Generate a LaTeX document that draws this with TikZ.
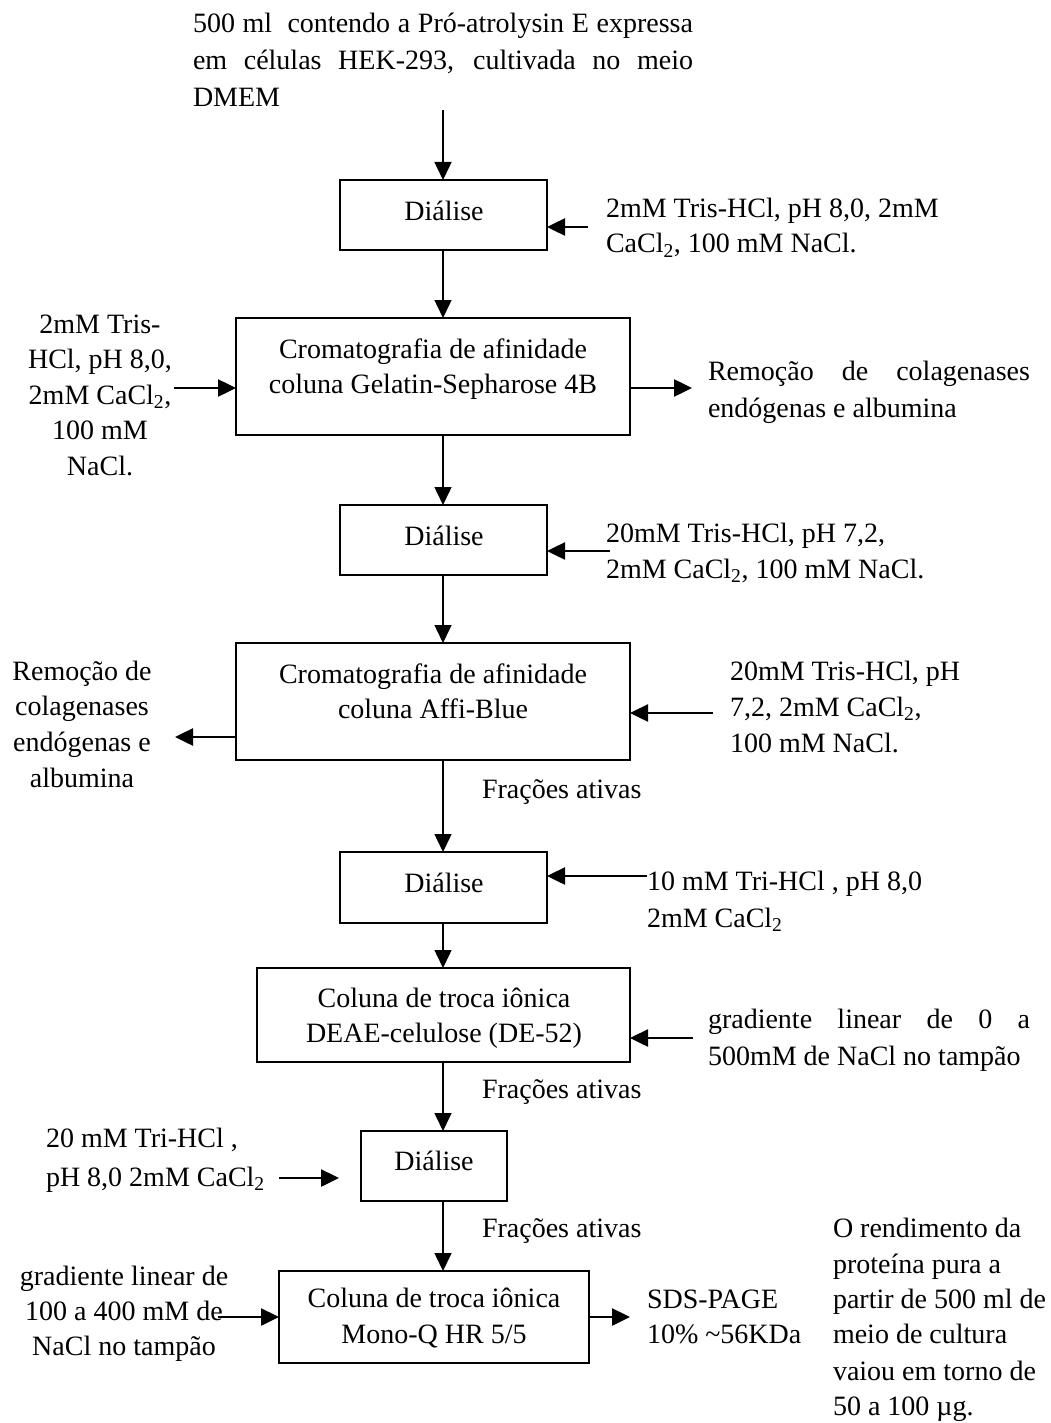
\documentclass[tikz,border=0pt]{standalone}
\usepackage{fontspec}
\setmainfont{Liberation Serif}
\usetikzlibrary{arrows.meta}
\begin{document}
\begin{tikzpicture}[x=1pt,y=-1pt,
  every node/.style={inner sep=0pt, outer sep=0pt},
  txt/.style={font=\fontsize{28}{35}\selectfont, anchor=base west},
  ctxt/.style={font=\fontsize{28}{35}\selectfont, anchor=base},
  box/.style={draw, line width=2pt, rectangle},
  varr/.style={line width=1.5pt, -{Triangle[length=18pt,width=17pt]}},
  harr/.style={line width=2.5pt, -{Triangle[length=18pt,width=17pt]}}]
\useasboundingbox (0,0) rectangle (1051,1423);

% ---- boxes ----
\node[box, minimum width=207pt, minimum height=70pt]  (b1) at (443.5,215)  {};
\node[box, minimum width=394pt, minimum height=117pt] (b2) at (433,376.5)  {};
\node[box, minimum width=207pt, minimum height=70pt]  (b3) at (443.5,540)  {};
\node[box, minimum width=394pt, minimum height=117pt] (b4) at (433,701.5)  {};
\node[box, minimum width=207pt, minimum height=71pt]  (b5) at (443.5,887.5) {};
\node[box, minimum width=373pt, minimum height=94pt]  (b6) at (443.5,1015) {};
\node[box, minimum width=146pt, minimum height=70pt]  (b7) at (434,1166)   {};
\node[box, minimum width=310pt, minimum height=92pt]  (b8) at (434,1317)   {};

% ---- box texts ----
\node[ctxt] (b1t)  at (444,221)  {Diálise};
\node[ctxt] (b2t1) at (433,358)  {Cromatografia de afinidade};
\node[ctxt] (b2t2) at (433,393)  {coluna Gelatin-Sepharose 4B};
\node[ctxt] (b3t)  at (444,545)  {Diálise};
\node[ctxt] (b4t1) at (433,683)  {Cromatografia de afinidade};
\node[ctxt] (b4t2) at (433,718)  {coluna Affi-Blue};
\node[ctxt] (b5t)  at (444,892)  {Diálise};
\node[ctxt] (b6t1) at (444,1007) {Coluna de troca iônica};
\node[ctxt] (b6t2) at (444,1042) {DEAE-celulose (DE-52)};
\node[ctxt] (b7t)  at (434,1170) {Diálise};
\node[ctxt] (b8t1) at (434,1307) {Coluna de troca iônica};
\node[ctxt] (b8t2) at (434,1343) {Mono-Q HR 5/5};

% ---- top text ----
\node[txt] (s1) at (193,33)  {\makebox[500pt][s]{500 ml \ contendo a Pró-atrolysin E expressa}};
\node[txt] (s2) at (193,70)  {\makebox[500pt][s]{em células HEK-293, cultivada no meio}};
\node[txt] (s3) at (193,107) {DMEM};

% ---- side texts ----
\node[txt] (r1a) at (606,218) {2mM Tris-HCl, pH 8,0, 2mM};
\node[txt] (r1b) at (606,253) {CaCl\textsubscript{2}, 100 mM NaCl.};

\node[ctxt] (l2a) at (100,333)   {2mM Tris-};
\node[ctxt] (l2b) at (100,368.5) {HCl, pH 8,0,};
\node[ctxt] (l2c) at (100,404)   {2mM CaCl\textsubscript{2},};
\node[ctxt] (l2d) at (100,439.5) {100 mM};
\node[ctxt] (l2e) at (100,475)   {NaCl.};

\node[txt] (r2a) at (708,380) {\makebox[322pt][s]{Remoção de colagenases}};
\node[txt] (r2b) at (708,417) {endógenas e albumina};

\node[txt] (r3a) at (606,542) {20mM Tris-HCl, pH 7,2,};
\node[txt] (r3b) at (606,578) {2mM CaCl\textsubscript{2}, 100 mM NaCl.};

\node[ctxt] (l4a) at (82,680)   {Remoção de};
\node[ctxt] (l4b) at (82,715.7) {colagenases};
\node[ctxt] (l4c) at (82,751.3) {endógenas e};
\node[ctxt] (l4d) at (82,787)   {albumina};

\node[txt] (r4a) at (730,680) {20mM Tris-HCl, pH};
\node[txt] (r4b) at (730,716) {7,2, 2mM CaCl\textsubscript{2},};
\node[txt] (r4c) at (730,752) {100 mM NaCl.};

\node[txt] (f1) at (482,798)  {Frações ativas};
\node[txt] (f2) at (482,1098) {Frações ativas};
\node[txt] (f3) at (482,1237) {Frações ativas};

\node[txt] (r5a) at (647,890) {10 mM Tri-HCl , pH 8,0};
\node[txt] (r5b) at (647,927) {2mM CaCl\textsubscript{2}};

\node[txt] (r6a) at (708,1028) {\makebox[322pt][s]{gradiente linear de 0 a}};
\node[txt] (r6b) at (708,1065) {500mM de NaCl no tampão};

\node[txt] (l7a) at (46,1147) {20 mM Tri-HCl ,};
\node[txt] (l7b) at (46,1186) {pH 8,0 2mM CaCl\textsubscript{2}};

\node[ctxt] (l8a) at (124,1285) {gradiente linear de};
\node[ctxt] (l8b) at (124,1320) {100 a 400 mM de};
\node[ctxt] (l8c) at (124,1355) {NaCl no tampão};

\node[txt] (r8a) at (647,1308) {SDS-PAGE};
\node[txt] (r8b) at (647,1343) {10\% \textasciitilde56KDa};

\node[txt] (y1) at (833,1237) {O rendimento da};
\node[txt] (y2) at (833,1273) {proteína pura a};
\node[txt] (y3) at (833,1308) {partir de 500 ml de};
\node[txt] (y4) at (833,1343) {meio de cultura};
\node[txt] (y5) at (833,1380) {vaiou em torno de};
\node[txt] (y6) at (833,1415) {50 a 100 µg.};

% ---- vertical connectors ----
\coordinate (ax) at (443,0);
\coordinate (top) at (443,110);
\draw[varr] (top) -- (b1.north -| ax);
\draw[varr] (b1.south -| ax) -- (b2.north -| ax);
\draw[varr] (b2.south -| ax) -- (b3.north -| ax);
\draw[varr] (b3.south -| ax) -- (b4.north -| ax);
\draw[varr] (b4.south -| ax) -- (b5.north -| ax);
\draw[varr] (b5.south -| ax) -- (b6.north -| ax);
\draw[varr] (b6.south -| ax) -- (b7.north -| ax);
\draw[varr] (b7.south -| ax) -- (b8.north -| ax);

% ---- horizontal connectors ----
\coordinate (h1) at (588,227);
\draw[harr] (h1) -- (h1 -| b1.east);
\coordinate (h2) at (174,388);
\draw[harr] (h2) -- (h2 -| b2.west);
\coordinate (h3) at (692,388);
\draw[harr] (h3 -| b2.east) -- (h3);
\coordinate (h4) at (610,551);
\draw[harr] (h4) -- (h4 -| b3.east);
\coordinate (h5) at (175,737);
\draw[harr] (h5 -| b4.west) -- (h5);
\coordinate (h6) at (713,713);
\draw[harr] (h6) -- (h6 -| b4.east);
\coordinate (h7) at (647,876);
\draw[harr] (h7) -- (h7 -| b5.east);
\coordinate (h8) at (693,1038);
\draw[harr] (h8) -- (h8 -| b6.east);
\coordinate (h9a) at (279,1178);
\coordinate (h9b) at (339,1178);
\draw[harr] (h9a) -- (h9b);
\coordinate (h10) at (218,1317);
\draw[harr] (h10) -- (h10 -| b8.west);
\coordinate (h11) at (630,1317);
\draw[harr] (h11 -| b8.east) -- (h11);
\end{tikzpicture}
\end{document}
